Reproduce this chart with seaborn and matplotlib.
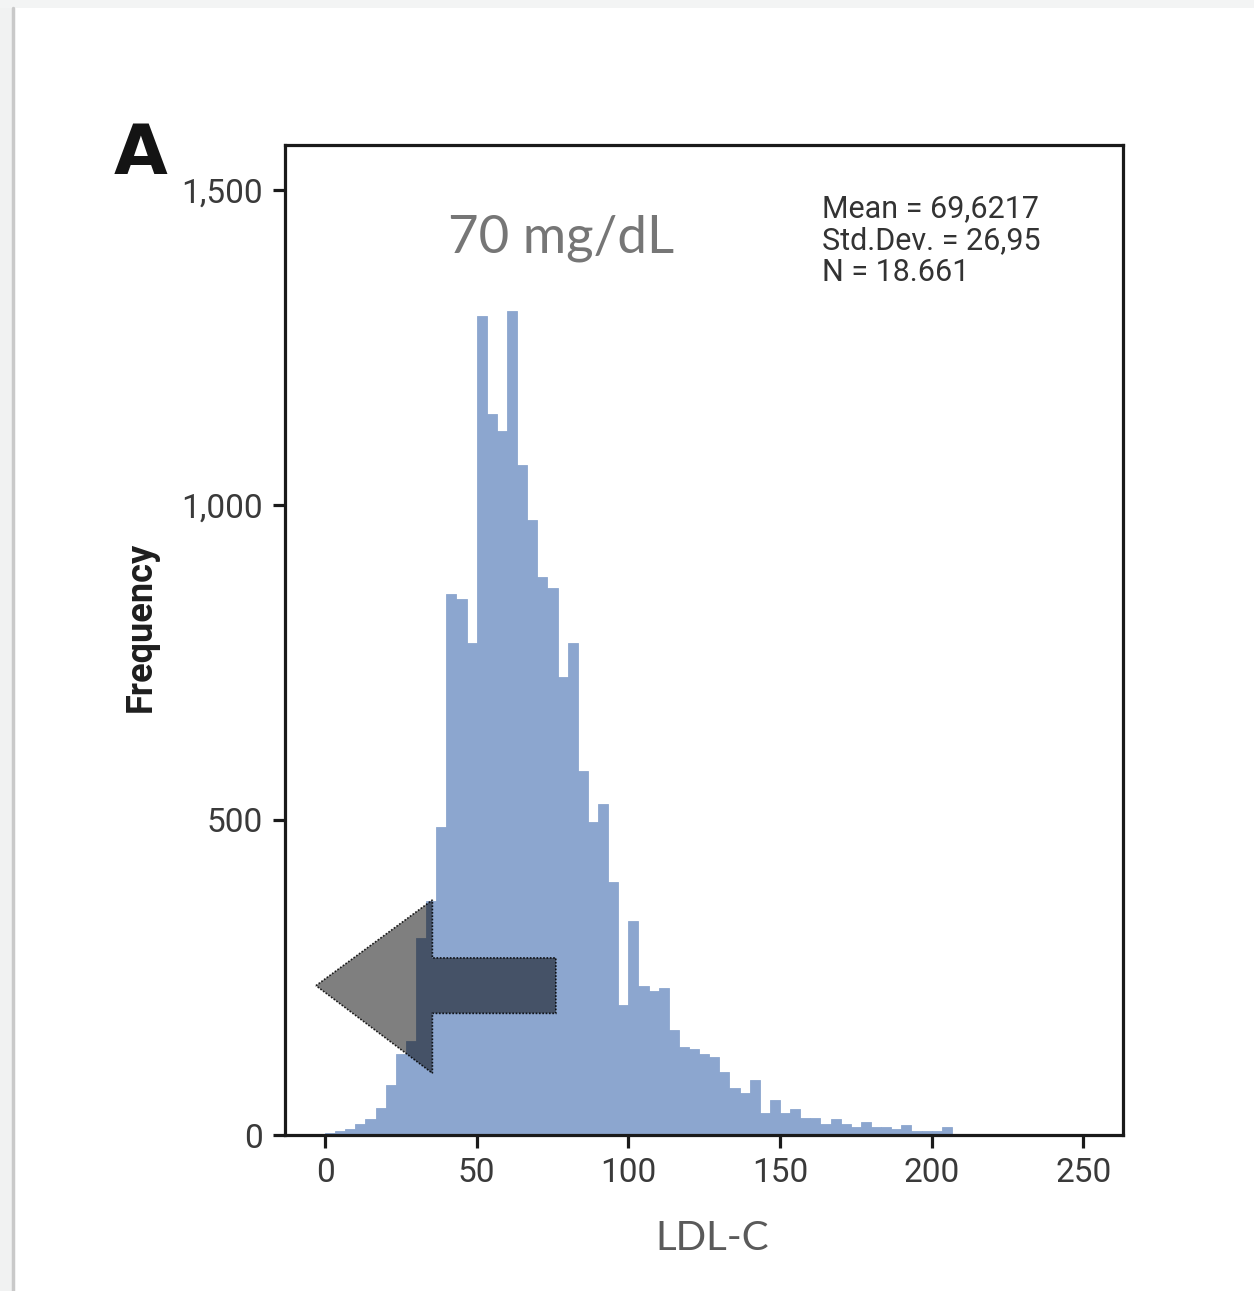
import numpy as np
import pandas as pd
import matplotlib
matplotlib.use("Agg")
import matplotlib.pyplot as plt
import seaborn as sns
from matplotlib.patches import Polygon, Rectangle
from matplotlib.lines import Line2D

# ---------------- data ----------------
bin_width = 10 / 3
counts = [3, 6, 10, 17, 25, 43, 80, 129, 149, 313, 371, 488,
          858, 850, 781, 1300, 1144, 1117, 1308, 1063, 976, 886, 868, 727,
          780, 577, 497, 525, 402, 207, 339, 236, 229, 233, 167, 140,
          136, 128, 123, 100, 74, 66, 88, 35, 55, 35, 42, 27,
          27, 18, 26, 18, 13, 21, 13, 12, 9, 16, 7, 7, 6, 12]
edges = [i * bin_width for i in range(len(counts) + 1)]
centers = [e + bin_width / 2 for e in edges[:-1]]
df = pd.DataFrame({"LDL-C": centers, "count": counts})

x_ticks = [0, 50, 100, 150, 200, 250]
y_ticks = [0, 500, 1000, 1500]
y_tick_labels = ["0", "500", "1,000", "1,500"]
stats_lines = ["Mean = 69,6217", "Std.Dev. = 26,95", "N = 18.661"]
annotation_text = "70 mg/dL"
panel_label = "A"

# arrow annotation (data coordinates)
arrow_tip = (-3.0, 237)
arrow_base_x = 35.4
arrow_head_top, arrow_head_bottom = 373, 98
arrow_shaft_top, arrow_shaft_bottom = 281, 193
arrow_end_x = 76.1

# ---------------- style ----------------
sns.set_style("white")
plt.rcParams["font.family"] = ["Roboto", "DejaVu Sans"]

W, H = 1254, 1291
fig = plt.figure(figsize=(W / 100, H / 100), dpi=100)
fig.patch.set_facecolor("white")

# screenshot border artefacts
fig.patches.append(Rectangle((0, 0), 12 / W, 1, transform=fig.transFigure,
                             facecolor="#f1f2f2", edgecolor="none", zorder=0))
fig.patches.append(Rectangle((0, 1 - 8 / H), 1, 8 / H, transform=fig.transFigure,
                             facecolor="#f3f4f4", edgecolor="none", zorder=0))
fig.lines.append(Line2D([13 / W, 13 / W], [0, 1 - 8 / H], transform=fig.transFigure,
                        color="#c9c9c9", lw=2.5, zorder=1))

ax = fig.add_axes([285 / W, (H - 1135) / H, 838 / W, 990 / H])

bar_color = "#8ca6cf"
sns.histplot(data=df, x="LDL-C", weights="count", bins=edges, color=bar_color,
             alpha=1, edgecolor=bar_color, linewidth=0.6, ax=ax)

ax.set_xlim(-13.2, 263.1)
ax.set_ylim(0, 1571)
ax.set_xticks(x_ticks)
ax.set_xticklabels([str(t) for t in x_ticks])
ax.set_yticks(y_ticks)
ax.set_yticklabels(y_tick_labels)

for s in ax.spines.values():
    s.set_visible(True)
    s.set_color("#1a1a1a")
    s.set_linewidth(2.3)

ax.tick_params(axis="both", which="major", bottom=True, left=True, top=False, right=False,
               direction="out", length=9, width=2.3, color="#1a1a1a",
               labelsize=24, labelcolor="#3a3a3a")
ax.tick_params(axis="x", pad=6.5)
ax.tick_params(axis="y", pad=7)

ax.set_ylabel("Frequency", fontsize=26, fontweight="bold", color="#1e1e1e")
ax.yaxis.set_label_coords((141 - 285) / 838, (1135 - 627) / 990)
ax.yaxis.label.set_va("center")

ax.set_xlabel("LDL-C", fontsize=29, color="#5a5a5a", family=["Lato", "DejaVu Sans"])
ax.xaxis.set_label_coords((712.5 - 285) / 838, (1135 - 1239) / 990)
ax.xaxis.label.set_va("center")

# arrow (semi-transparent, dotted outline)
verts = [arrow_tip,
         (arrow_base_x, arrow_head_top),
         (arrow_base_x, arrow_shaft_top),
         (arrow_end_x, arrow_shaft_top),
         (arrow_end_x, arrow_shaft_bottom),
         (arrow_base_x, arrow_shaft_bottom),
         (arrow_base_x, arrow_head_bottom)]
ax.add_patch(Polygon(verts, closed=True, facecolor=(0, 0, 0, 0.5),
                     edgecolor=(0, 0, 0, 0.85), linewidth=1.2,
                     linestyle=(0, (1, 1)), zorder=5))

# texts
fig.text(141 / W, 1 - 155 / H, panel_label, fontsize=50, fontweight="bold",
         family=["DejaVu Sans"], color="#141414", ha="center", va="center")
fig.text(561 / W, 1 - 252 / H, annotation_text, fontsize=38,
         family=["Lato", "DejaVu Sans"], color="#767676", ha="center", va="baseline")
for i, line in enumerate(stats_lines):
    fig.text(822 / W, 1 - (216.7 + 32 * i) / H, line, fontsize=22, color="#333333",
             ha="left", va="baseline")

fig.savefig("out.png", dpi=100, facecolor="white")
